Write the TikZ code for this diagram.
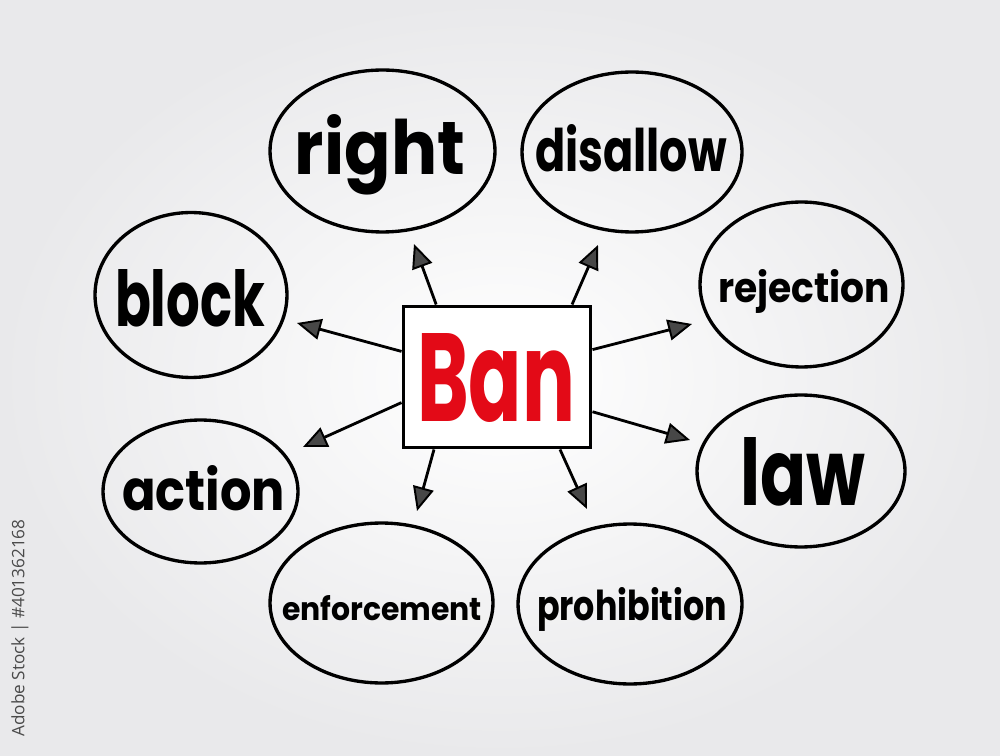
\documentclass[tikz,border=0pt]{standalone}
\usepackage{fontspec}
\setmainfont{Poppins}
\newfontfamily\wmfont{Open Sans}
\usetikzlibrary{shapes.geometric,arrows.meta}
\definecolor{banred}{HTML}{E30A17}
\definecolor{wmgray}{HTML}{4A4A4A}
\definecolor{bgedge}{HTML}{E9E9EB}
\begin{document}
\begin{tikzpicture}[x=0.02cm,y=-0.02cm,
  bubble/.style={draw=black, ellipse, line width=1.9pt, inner sep=0pt},
  word/.style={inner sep=0pt, anchor=base, text=black},
  centerbox/.style={draw=black, rectangle, line width=1.7pt, fill=white, inner sep=0pt,
    minimum width=3.76cm, minimum height=2.84cm},
  arr/.style={line width=1.6pt, -{Triangle[length=0.48cm, width=0.42cm, fill=black!72, line width=1.1pt]}}
]
\useasboundingbox (0,0) rectangle (1000,756);
\shade[inner color=white, outer color=bgedge] (0,0) rectangle (1000,756);

% bubbles
\node[bubble, minimum width=4.5cm, minimum height=3.24cm] (right) at (382.5,151) {};
\node[bubble, minimum width=4.4cm, minimum height=3.2cm] (disallow) at (632,152) {};
\node[bubble, minimum width=3.84cm, minimum height=3.3cm] (block) at (191,295) {};
\node[bubble, minimum width=4.06cm, minimum height=3.3cm] (rejection) at (801.5,284.5) {};
\node[bubble, minimum width=3.9cm, minimum height=2.86cm] (action) at (200.5,491.5) {};
\node[bubble, minimum width=4.16cm, minimum height=3.04cm] (law) at (801,471) {};
\node[bubble, minimum width=4.46cm, minimum height=3.2cm] (enforcement) at (381.5,603) {};
\node[bubble, minimum width=4.48cm, minimum height=3.2cm] (prohibition) at (630,604) {};

% words
\node[word] (right-t) at (380,175) {\resizebox{3.4cm}{1.2cm}{\bfseries right}};
\node[word] (disallow-t) at (631,172) {\resizebox{3.84cm}{0.94cm}{\bfseries disallow}};
\node[word] (block-t) at (190,327) {\resizebox{3.0cm}{1.14cm}{\bfseries block}};
\node[word] (rejection-t) at (804,303) {\resizebox{3.44cm}{0.66cm}{\bfseries rejection}};
\node[word] (action-t) at (203.5,510) {\resizebox{3.26cm}{0.9cm}{\bfseries action}};
\node[word] (law-t) at (802.5,505) {\resizebox{2.5cm}{1.36cm}{\bfseries law}};
\node[word] (enforcement-t) at (382,620) {\resizebox{4.0cm}{0.5cm}{\bfseries enforcement}};
\node[word] (prohibition-t) at (632,620) {\resizebox{3.8cm}{0.66cm}{\bfseries prohibition}};

% centre
\node[centerbox] (ban) at (497,377) {};
\node[word, text=banred] (ban-t) at (496,421) {\resizebox{3.16cm}{1.76cm}{\bfseries Ban}};

% arrow tips
\coordinate (tip-right) at (414,244);
\coordinate (tip-disallow) at (598,245);
\coordinate (tip-block) at (297,323);
\coordinate (tip-action) at (303,447);
\coordinate (tip-enf) at (417,511);
\coordinate (tip-pro) at (587,509);
\coordinate (tip-rej) at (692,324);
\coordinate (tip-law) at (690,440);

\draw[arr] (ban.130) -- (tip-right);
\draw[arr] (ban.44.6) -- (tip-disallow);
\draw[arr] (ban.165) -- (tip-block);
\draw[arr] (ban.195.5) -- (tip-action);
\draw[arr] (ban.229.3) -- (tip-enf);
\draw[arr] (ban.311.6) -- (tip-pro);
\draw[arr] (ban.16) -- (tip-rej);
\draw[arr] (ban.340.7) -- (tip-law);

% stock id
\node[inner sep=0pt, rotate=90, text=wmgray] (stockid) at (20,628)
  {\resizebox{4.34cm}{!}{\wmfont Adobe Stock | \#401362168}};
\end{tikzpicture}
\end{document}
